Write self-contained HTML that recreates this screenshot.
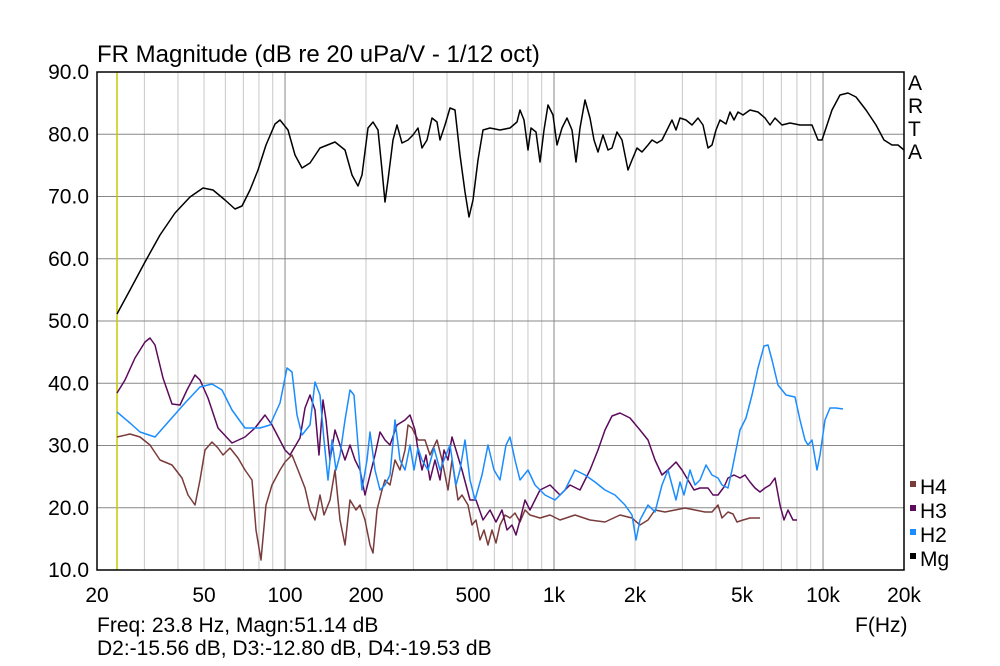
<!DOCTYPE html>
<html><head><meta charset="utf-8"><style>
body{margin:0;background:#fff}
svg{display:block;font-family:"Liberation Sans",sans-serif}
</style></head><body>
<svg id="s" width="1000" height="666" viewBox="0 0 1000 666">
<rect width="1000" height="666" fill="#fff"/>
<g id="grid"></g>
<line x1="117" y1="72" x2="117" y2="570" stroke="#c8c800" stroke-width="1.5"/>
<g id="curves" fill="none" stroke-width="1.5" stroke-linejoin="round"></g>
<rect x="97" y="72" width="807" height="498" fill="none" stroke="#000" stroke-width="1.5"/>
<text x="97" y="62" font-size="24">FR Magnitude (dB re 20 uPa/V - 1/12 oct)</text>
<g font-size="21" text-anchor="end" id="ylab"></g>
<g font-size="21" text-anchor="middle" id="xlab"></g>
<g font-size="21">
<text x="908" y="90">A</text><text x="908" y="113">R</text><text x="908" y="136">T</text><text x="908" y="159">A</text>
<rect x="910" y="481" width="6" height="6" fill="#7a3b3b"/><text x="920" y="494">H4</text>
<rect x="910" y="505" width="6" height="6" fill="#5c0a5c"/><text x="920" y="518">H3</text>
<rect x="910" y="529" width="6" height="6" fill="#1a8cff"/><text x="920" y="542">H2</text>
<rect x="910" y="553" width="6" height="6" fill="#000"/><text x="920" y="566">Mg</text>
<text x="855" y="632">F(Hz)</text>
<text x="97" y="632">Freq: 23.8 Hz, Magn:51.14 dB</text>
<text x="97" y="655">D2:-15.56 dB, D3:-12.80 dB, D4:-19.53 dB</text>
</g>
</svg>
<script>
const NS="http://www.w3.org/2000/svg";
function el(p,t,a,txt){const e=document.createElementNS(NS,t);for(const k in a)e.setAttribute(k,a[k]);if(txt)e.textContent=txt;p.appendChild(e);return e;}
const g=document.getElementById('grid');
const fx=f=>97+269*Math.log10(f/20);
for(let d=10;d<=10000;d*=10)for(let m=1;m<10;m++){const f=d*m;if(f<=20||f>=20000)continue;const x=fx(f);const maj=(m==1);
el(g,'line',{x1:x,y1:72,x2:x,y2:570,stroke:maj?'#888':'#c8c8c8','stroke-width':1});}
for(let i=1;i<8;i++){const y=72+i*62.25;el(g,'line',{x1:97,y1:y,x2:904,y2:y,stroke:'#888','stroke-width':1});}
const yl=document.getElementById('ylab');
for(let i=0;i<=8;i++){const y=72+i*62.25;el(yl,'text',{x:89,y:y+7},(90-i*10).toFixed(1));}
const xl=document.getElementById('xlab');
[[20,'20'],[50,'50'],[100,'100'],[200,'200'],[500,'500'],[1000,'1k'],[2000,'2k'],[5000,'5k'],[10000,'10k'],[20000,'20k']].forEach(([f,t])=>el(xl,'text',{x:fx(f),y:602},t));
const C=document.getElementById('curves');
function pl(pts,c){el(C,'polyline',{points:pts,stroke:c});}
pl("117,437 130,434 140,437 150,445 160,460 172,465 182,478 188,495 195,505 200,480 205,450 212,442 218,448 223,455 230,448 238,458 245,470 252,480 256,530 261,560 266,505 272,485 280,470 285,462 292,455 298,470 305,488 310,510 315,520 320,495 324,515 330,500 335,470 340,520 345,545 350,500 356,510 360,505 365,520 370,545 373,553 377,510 382,490 385,480 390,485 395,460 400,470 405,450 408,425 412,428 418,440 425,440 430,455 437,440 442,460 448,490 452,460 458,500 462,495 468,505 472,525 476,520 480,540 484,530 488,545 492,530 496,543 500,525 505,515 510,518 515,513 520,522 525,510 530,515 540,518 550,515 560,520 575,515 590,520 605,522 620,515 632,518 640,525 648,520 655,510 665,512 675,510 685,508 695,510 705,512 712,512 718,505 722,518 728,512 733,514 737,522 743,520 750,518 760,518","#7a3b3b");
pl("117,393 125,380 135,358 145,342 150,338 155,345 163,378 172,404 180,405 187,390 195,375 200,380 208,398 218,428 232,443 245,437 255,428 265,415 272,425 285,450 290,455 300,438 305,408 310,395 315,410 319,455 323,400 326,420 330,460 335,430 340,445 345,460 350,445 355,460 360,470 365,495 370,475 375,455 380,432 385,440 390,445 397,425 405,420 410,415 415,430 418,450 422,470 426,455 430,480 435,460 440,480 444,450 448,460 452,437 456,450 462,470 466,485 470,500 476,500 483,520 490,510 496,522 502,510 507,530 512,525 516,535 520,520 525,500 530,510 540,490 550,485 560,495 570,485 580,490 590,470 598,450 605,430 612,416 620,413 630,418 640,430 648,440 655,460 662,475 670,468 676,462 682,470 688,480 694,490 700,488 708,488 713,495 718,495 724,487 728,478 734,475 740,478 745,475 750,482 755,488 760,492 765,488 770,485 775,478 780,505 784,520 788,510 793,520 797,520","#5c0a5c");
pl("117,412 130,423 140,432 155,437 170,420 185,403 200,387 212,384 222,390 232,410 245,428 260,428 270,425 280,403 287,368 292,372 297,415 302,435 310,425 315,382 320,395 324,440 328,480 332,440 336,470 340,455 345,420 350,390 354,395 358,445 362,490 367,460 370,432 375,470 380,490 385,485 390,475 395,420 400,460 405,470 410,445 414,470 418,448 422,460 428,470 434,448 440,470 446,455 450,445 456,485 460,470 465,440 470,480 475,500 482,475 488,445 494,470 500,480 506,445 510,437 515,460 520,480 528,470 535,485 545,495 555,500 565,490 575,470 585,475 595,482 605,490 615,495 625,505 632,515 636,540 640,520 648,505 655,512 662,485 668,470 672,485 676,500 680,482 684,495 690,470 695,485 700,480 706,465 712,475 718,478 722,485 728,488 732,470 736,450 740,430 746,418 752,395 758,368 764,346 768,345 772,360 778,385 786,395 795,397 800,420 805,440 808,445 812,440 817,470 820,455 825,420 830,408 836,408 843,409","#1a8cff");
pl("117,314 130,290 145,262 160,235 175,213 190,197 203,188 213,190 225,200 235,209 242,206 250,190 258,170 266,145 275,124 280,120 288,130 295,155 302,168 310,163 320,148 335,142 345,150 352,175 358,186 362,175 368,128 373,122 378,130 382,170 385,202 388,180 393,140 397,125 402,143 408,140 413,135 418,128 422,148 427,140 432,118 437,122 440,140 445,125 450,108 455,110 460,155 465,192 469,217 473,200 478,160 483,130 490,128 500,130 510,128 517,122 520,110 524,120 528,150 531,128 536,132 540,162 544,130 548,105 553,115 557,145 562,128 567,118 572,130 576,162 580,128 585,100 590,118 594,140 598,152 603,135 608,150 612,148 617,132 622,140 628,170 632,160 637,148 642,152 648,145 652,140 657,143 662,140 667,130 672,120 676,130 680,118 686,120 692,125 698,118 703,125 708,148 712,145 716,130 720,120 726,124 730,112 734,120 738,112 743,115 750,110 758,112 765,118 770,125 775,118 782,125 790,123 800,125 812,125 818,140 822,140 826,128 832,110 840,95 848,93 856,97 866,110 876,125 884,140 892,145 898,145 904,150","#000");
</script>
</body></html>
